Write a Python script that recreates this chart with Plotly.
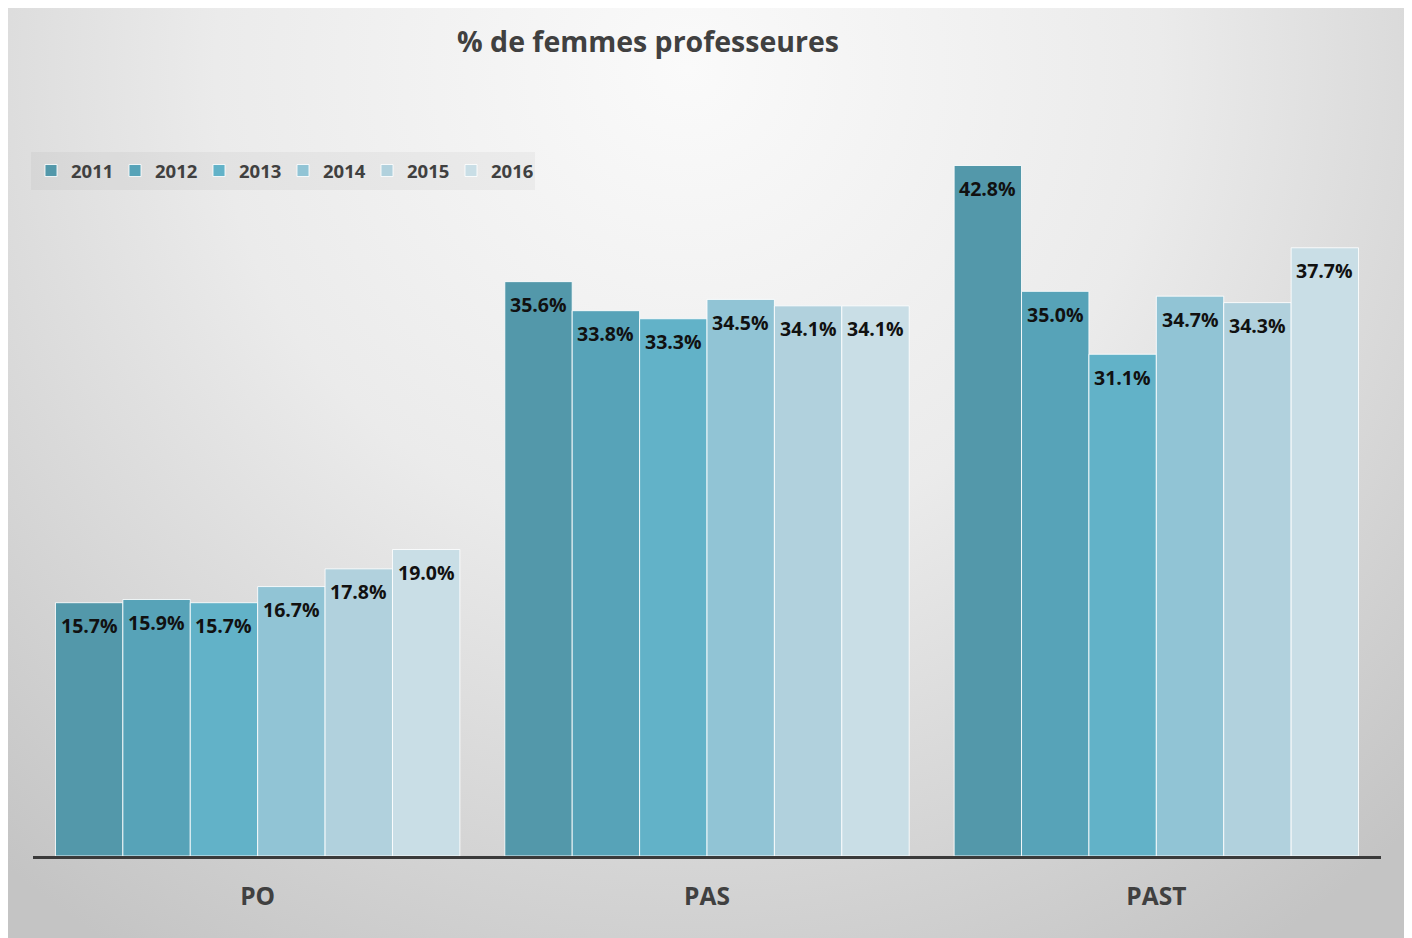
import base64
import plotly.graph_objects as go

categories = ["PO", "PAS", "PAST"]
years = ["2011", "2012", "2013", "2014", "2015", "2016"]
values = {
    "2011": [15.7, 35.6, 42.8],
    "2012": [15.9, 33.8, 35.0],
    "2013": [15.7, 33.3, 31.1],
    "2014": [16.7, 34.5, 34.7],
    "2015": [17.8, 34.1, 34.3],
    "2016": [19.0, 34.1, 37.7],
}
colors = ["#5398aa", "#57a3b8", "#62b2c8", "#91c4d5", "#b1d1dd", "#c9dee6"]

FONT = "Open Sans"
TXT = "#404040"

fig = go.Figure()
bargap = 0.1
n = len(years)
bw = (1 - bargap) / n
annotations = []
for j, (yr, col) in enumerate(zip(years, colors)):
    fig.add_trace(go.Bar(
        name=yr, x=categories, y=values[yr],
        marker=dict(color=col, line=dict(color="rgba(255,255,255,0.85)", width=1)),
        hoverinfo="skip",
    ))
    for i, v in enumerate(values[yr]):
        annotations.append(dict(
            x=i + (j - (n - 1) / 2) * bw, y=v, xref="x", yref="y",
            text=f"{v:.1f}%", showarrow=False, yshift=-23,
            font=dict(family=FONT, size=19.5, color="#111111", weight="bold"),
        ))

W, H = 1404, 930
L, R, T, B = 25, 31, 122, 82
pw, ph = W - L - R, H - T - B

svg = f"""<svg xmlns='http://www.w3.org/2000/svg' width='{W}' height='{H}' viewBox='0 0 {W} {H}' preserveAspectRatio='none'>
<defs><radialGradient id='g' gradientUnits='userSpaceOnUse' cx='680' cy='60' r='1050'>
<stop offset='0' stop-color='#fafafa'/><stop offset='0.45' stop-color='#ebebeb'/><stop offset='1' stop-color='#c4c4c4'/>
</radialGradient></defs><rect width='{W}' height='{H}' fill='url(#g)'/></svg>"""
src = "data:image/svg+xml;base64," + base64.b64encode(svg.encode()).decode()


def px_x(p):
    return (p - L) / pw


def px_y(p):
    return (H - B - p) / ph


fig.update_layout(
    width=W, height=H,
    margin=dict(l=L, r=R, t=T, b=B),
    paper_bgcolor="#d4d4d4", plot_bgcolor="rgba(0,0,0,0)",
    barmode="group", bargap=bargap, bargroupgap=0,
    title=dict(text="% de femmes professeures", x=640 / W, xanchor="center",
               y=1 - 34 / H, yanchor="middle",
               font=dict(family=FONT, size=28.5, color=TXT, weight="bold")),
    legend=dict(orientation="h", x=px_x(23), y=px_y(144), xanchor="left", yanchor="top",
                bgcolor="rgba(0,0,0,0.035)", entrywidth=39, entrywidthmode="pixels",
                font=dict(family=FONT, size=18.5, color=TXT, weight="bold"),
                itemclick=False, itemdoubleclick=False),
    xaxis=dict(range=[-0.5, 2.5], showline=True, linecolor="#3a3a3a", linewidth=3,
               ticks="", ticklabelstandoff=17, showgrid=False,
               tickfont=dict(family=FONT, size=24.5, color=TXT, weight="bold")),
    yaxis=dict(range=[0, 45], visible=False, showgrid=False),
    annotations=annotations,
    images=[dict(source=src, xref="paper", yref="paper",
                 x=px_x(0), y=px_y(0), sizex=W / pw, sizey=H / ph,
                 xanchor="left", yanchor="top", sizing="stretch", layer="below")],
    showlegend=True,
)

fig.write_html("out.html")
